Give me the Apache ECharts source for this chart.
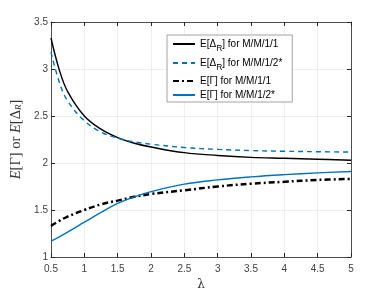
<!DOCTYPE html>
<html>
<head>
<meta charset="utf-8">
<script src="https://cdn.jsdelivr.net/npm/echarts@6/dist/echarts.min.js"></script>
<style>html,body{margin:0;padding:0;background:#fff;}#c{width:388px;height:291px;}</style>
</head>
<body>
<div id="c"></div>
<script>
const lambdas = [0.5, 0.625, 0.75, 1, 1.25, 1.5, 1.75, 2, 2.5, 3, 3.5, 4, 4.5, 5];
const deltaR_MM11 = [3.33, 2.99, 2.76, 2.50, 2.36, 2.27, 2.21, 2.17, 2.11, 2.08, 2.06, 2.05, 2.04, 2.03];
const deltaR_MM12 = [3.18, 2.86, 2.66, 2.45, 2.33, 2.265, 2.225, 2.20, 2.165, 2.145, 2.132, 2.125, 2.12, 2.116];
const gamma_MM11 = [1.33, 1.385, 1.43, 1.50, 1.56, 1.60, 1.64, 1.67, 1.71, 1.75, 1.78, 1.80, 1.82, 1.83];
const gamma_MM12 = [1.17, 1.215, 1.265, 1.37, 1.475, 1.57, 1.64, 1.695, 1.775, 1.82, 1.852, 1.876, 1.895, 1.91];
const xTicks = [0.5, 1, 1.5, 2, 2.5, 3, 3.5, 4, 4.5, 5];
const yTicks = [1, 1.5, 2, 2.5, 3, 3.5];

const blue = '#0072BD';
const axisCol = '#262626';
const names = ['dR11', 'dR12', 'g11', 'g12'];
const pair = (ys) => lambdas.map((x, i) => [x, ys[i]]);

const chart = echarts.init(document.getElementById('c'));
const font = 'Liberation Sans, Arial, sans-serif';
const baseX = {
  type: 'value', min: 0.5, max: 5, interval: 0.5,
  axisLine: { show: true, onZero: false, lineStyle: { color: axisCol, width: 0.8 } },
  axisTick: { show: true, inside: true, length: 4, lineStyle: { color: axisCol } },
  splitLine: { show: false }
};
const baseY = {
  type: 'value', min: 1, max: 3.5, interval: 0.5,
  axisLine: { show: true, onZero: false, lineStyle: { color: axisCol, width: 0.8 } },
  axisTick: { show: true, inside: true, length: 4, lineStyle: { color: axisCol } },
  splitLine: { show: false }
};
chart.setOption({
  animation: false,
  grid: { left: 51, right: 37, top: 22, bottom: 34, containLabel: false, outerBoundsMode: 'none' },
  legend: {
    orient: 'vertical', left: 167, top: 35,
    data: names,
    itemWidth: 22, itemHeight: 10, itemGap: 4,
    padding: [3, 10, 2, 5],
    borderColor: '#8c8c8c', borderWidth: 0.8, backgroundColor: '#fff',
    itemStyle: { opacity: 0, borderWidth: 0 },
    textStyle: {
      fontFamily: font, fontSize: 10, color: '#000',
      rich: {
        t: { fontFamily: font, fontSize: 10, color: '#000', lineHeight: 14 },
        ts: { fontFamily: font, fontSize: 10, color: '#000', lineHeight: 18 },
        s: { fontFamily: font, fontSize: 8.5, color: '#000', verticalAlign: 'bottom', lineHeight: 18, padding: [6, 0, 0, 0] }
      }
    },
    formatter: function (n) {
      if (n === 'dR11') return '{ts|E[Δ}{s|R}{ts|] for M/M/1/1}';
      if (n === 'dR12') return '{ts|E[Δ}{s|R}{ts|] for M/M/1/2*}';
      if (n === 'g11') return '{t|E[Γ] for M/M/1/1}';
      return '{t|E[Γ] for M/M/1/2*}';
    }
  },
  xAxis: [
    Object.assign({}, baseX, {
      position: 'bottom',
      axisLabel: { color: '#404040', fontSize: 10, fontFamily: font, margin: 7,
        formatter: v => xTicks.includes(v) ? String(v) : '' },
      splitLine: { show: true, lineStyle: { color: '#ebebeb', width: 0.8 } },
      name: 'λ', nameLocation: 'middle', nameGap: 20,
      nameTextStyle: { fontFamily: 'DejaVu Serif, serif', fontSize: 12, color: '#333' }
    }),
    Object.assign({}, baseX, { position: 'top', axisLabel: { show: false } })
  ],
  yAxis: [
    Object.assign({}, baseY, {
      position: 'left',
      axisLabel: { color: '#404040', fontSize: 10, fontFamily: font, margin: 3,
        formatter: v => yTicks.includes(v) ? String(v) : '' },
      splitLine: { show: true, lineStyle: { color: '#ebebeb', width: 0.8 } },
      name: '{i|E}[Γ] or {i|E}[Δ{sub|R}]', nameLocation: 'middle', nameGap: 20,
      nameTextStyle: {
        fontFamily: 'Liberation Serif, DejaVu Serif, serif', fontSize: 14.5, color: '#333',
        rich: {
          i: { fontFamily: 'Liberation Serif, serif', fontStyle: 'italic', fontSize: 14.5, color: '#333' },
          sub: { fontFamily: 'Liberation Serif, serif', fontStyle: 'italic', fontSize: 9, color: '#333', verticalAlign: 'bottom', padding: [6, 0, 0, 0] }
        }
      }
    }),
    Object.assign({}, baseY, { position: 'right', axisLabel: { show: false } })
  ],
  series: [
    { name: 'dR11', type: 'line', data: pair(deltaR_MM11), showSymbol: false, symbol: 'none', smooth: 0.4,
      lineStyle: { color: '#000', width: 1.4, type: 'solid' }, itemStyle: { color: '#000' } },
    { name: 'dR12', type: 'line', data: pair(deltaR_MM12), showSymbol: false, symbol: 'none', smooth: 0.4,
      lineStyle: { color: blue, width: 1.4, type: [5, 4] }, itemStyle: { color: blue } },
    { name: 'g11', type: 'line', data: pair(gamma_MM11), showSymbol: false, symbol: 'none', smooth: 0.4,
      lineStyle: { color: '#000', width: 2.5, type: [6, 3, 2, 3] }, itemStyle: { color: '#000' } },
    { name: 'g12', type: 'line', data: pair(gamma_MM12), showSymbol: false, symbol: 'none', smooth: 0.4,
      lineStyle: { color: blue, width: 1.4, type: 'solid' }, itemStyle: { color: blue } }
  ]
});
</script>
</body>
</html>
